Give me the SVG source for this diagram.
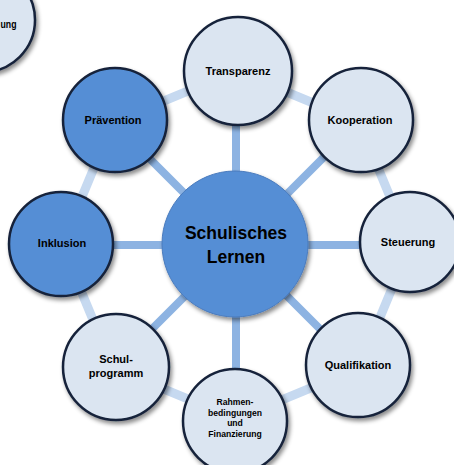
<svg xmlns="http://www.w3.org/2000/svg" width="454" height="465" viewBox="0 0 454 465">
  <defs>
    <filter id="shadow" x="-20%" y="-20%" width="150%" height="150%">
      <feDropShadow dx="2" dy="3" stdDeviation="2" flood-color="#000" flood-opacity="0.45"/>
    </filter>
  </defs>
  <style>
    .ring { fill: none; stroke: #c6d9f0; stroke-width: 9; stroke-linejoin: miter; }
    .spoke { stroke: #8db3e2; stroke-width: 8; }
    .light { fill: #dbe5f1; stroke: #16233a; stroke-width: 2.5; filter: url(#shadow); }
    .dark { fill: #558ed5; stroke: #16233a; stroke-width: 2.5; filter: url(#shadow); }
    .hub { fill: #558ed5; stroke: #4a7bbd; stroke-width: 1; filter: url(#shadow); }
    text { font-family: "Liberation Sans", Arial, sans-serif; font-weight: bold; fill: #000; text-anchor: middle; }
    .lbl { font-size: 11px; }
    .small { font-size: 8.6px; }
    .big { font-size: 17.5px; }
  </style>

  <g id="connectors">
    <!-- outer ring joining neighbouring topics -->
    <polygon class="ring" points="236,71 359,122 410,245 359,368 236,419 113,368 62,245 113,122"/>
    <!-- spokes from the hub -->
    <line class="spoke" x1="236" y1="245" x2="236" y2="71"/>
    <line class="spoke" x1="236" y1="245" x2="359" y2="122"/>
    <line class="spoke" x1="236" y1="245" x2="410" y2="245"/>
    <line class="spoke" x1="236" y1="245" x2="359" y2="368"/>
    <line class="spoke" x1="236" y1="245" x2="236" y2="419"/>
    <line class="spoke" x1="236" y1="245" x2="113" y2="368"/>
    <line class="spoke" x1="236" y1="245" x2="62" y2="245"/>
    <line class="spoke" x1="236" y1="245" x2="113" y2="122"/>
  </g>

  <g id="node-partial">
    <circle class="light" cx="-17" cy="20" r="52"/>
    <text class="lbl" x="0.5" y="28" style="text-anchor:start" textLength="16" lengthAdjust="spacingAndGlyphs">ung</text>
  </g>

  <g id="node-transparenz">
    <circle class="light" cx="238" cy="71" r="54"/>
    <text class="lbl" x="238" y="75">Transparenz</text>
  </g>

  <g id="node-kooperation">
    <circle class="light" cx="361" cy="120" r="52"/>
    <text class="lbl" x="360" y="124">Kooperation</text>
  </g>

  <g id="node-steuerung">
    <circle class="light" cx="410" cy="242" r="50"/>
    <text class="lbl" x="408" y="246">Steuerung</text>
  </g>

  <g id="node-qualifikation">
    <circle class="light" cx="358" cy="365" r="52"/>
    <text class="lbl" x="358" y="369">Qualifikation</text>
  </g>

  <g id="node-rahmen">
    <circle class="light" cx="235" cy="421" r="52"/>
    <text class="small" x="235" y="405">Rahmen-</text>
    <text class="small" x="235" y="416">bedingungen</text>
    <text class="small" x="235" y="426">und</text>
    <text class="small" x="235" y="437">Finanzierung</text>
  </g>

  <g id="node-schulprogramm">
    <circle class="light" cx="116" cy="367" r="53"/>
    <text class="lbl" x="116" y="363">Schul-</text>
    <text class="lbl" x="116" y="377">programm</text>
  </g>

  <g id="node-inklusion">
    <circle class="dark" cx="61" cy="244" r="52"/>
    <text class="lbl" x="62" y="247">Inklusion</text>
  </g>

  <g id="node-praevention">
    <circle class="dark" cx="115" cy="120" r="52"/>
    <text class="lbl" x="113" y="124">Prävention</text>
  </g>

  <g id="node-hub">
    <circle class="hub" cx="235" cy="244" r="73"/>
    <text class="big" x="236" y="239">Schulisches</text>
    <text class="big" x="236" y="263">Lernen</text>
  </g>
</svg>
